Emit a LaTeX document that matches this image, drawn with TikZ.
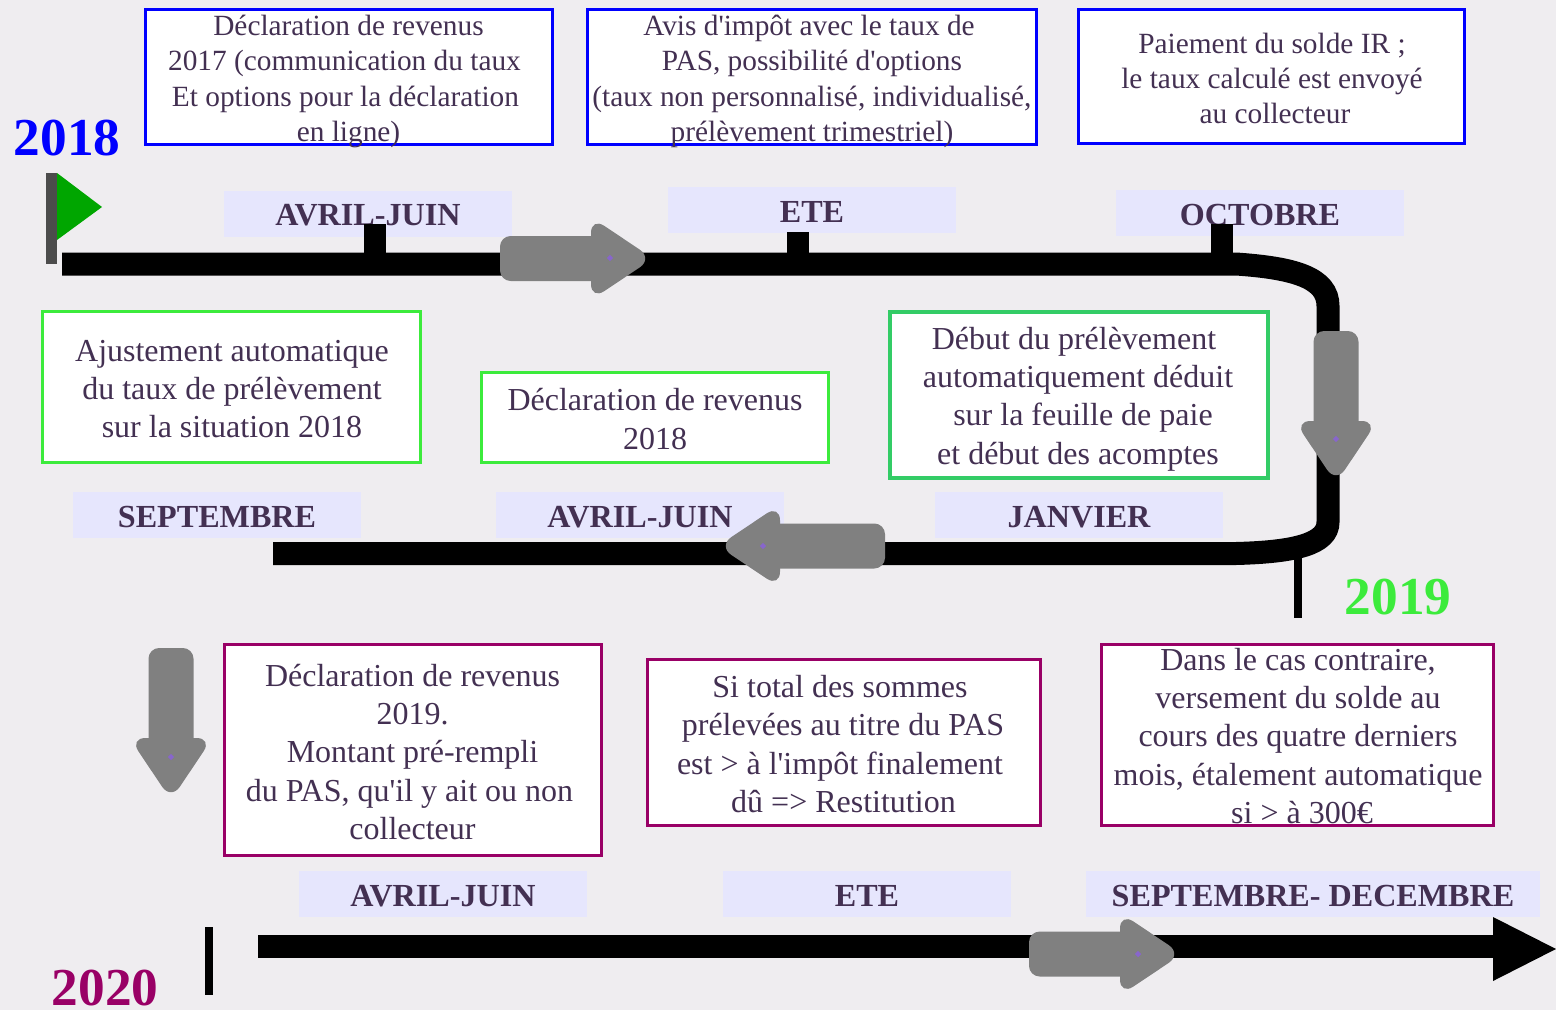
\documentclass[tikz,border=0pt]{standalone}
\usepackage{fontspec}
\usetikzlibrary{shapes.geometric}
\setmainfont{Liberation Serif}[Ligatures=TeXOff]
\definecolor{bgc}{HTML}{EFEDF0}
\definecolor{lab}{HTML}{E6E6FD}
\definecolor{ink}{HTML}{433052}
\definecolor{grA}{HTML}{3CEB3C}
\definecolor{grB}{HTML}{33CC66}
\definecolor{pur}{HTML}{990066}
\definecolor{fat}{HTML}{808080}
\definecolor{dotc}{HTML}{8866CC}
\newcommand\pxbox[6]{\pgfmathsetmacro\bxw{(#5-#3)*0.75}\pgfmathsetmacro\bxh{(#6-#4)*0.75}%
 \node[#2,minimum width=\bxw pt,minimum height=\bxh pt] (#1) at ({(#3+#5)/2},{(#4+#6)/2}) {};}
\newcommand\fatarrow[4]{\begin{scope}[shift={(#1,#2)},rotate=#3]
 \fill[fat,rounded corners=8pt] (0,-22.5) rectangle (#4+20,22.5);
 \fill[fat,rounded corners=12pt] (#4,-41.5) -- (#4+62,0) -- (#4,41.5) -- cycle;
 \end{scope}}
\newcommand\mlab[1]{\raisebox{-1.5pt}[\height][\depth]{#1}}
% shift one centred line right by #1 picture pixels
\newcommand\sh[1]{\hspace*{#1\dimexpr1.5pt\relax}}
\tikzset{
 x=0.75pt,y=-0.75pt,
 frame/.style={fill=white,line width=2.25pt,inner sep=0pt,outer sep=0pt},
 bluebox/.style={frame,draw=blue},
 greenbox/.style={frame,draw=grA},
 green2box/.style={frame,draw=grB,line width=3pt},
 purbox/.style={frame,draw=pur},
 txtS/.style={text=ink,align=center,font=\fontsize{22}{26.7}\selectfont,inner sep=0pt},
 txt/.style={text=ink,align=center,font=\fontsize{24}{28.8}\selectfont,inner sep=0pt},
 labelbox/.style={fill=lab,text=ink,inner sep=0pt,outer sep=0pt,font=\fontsize{24.1}{28}\selectfont\bfseries},
 year/.style={font=\fontsize{40}{42}\selectfont\bfseries,inner sep=0pt},
 axis/.style={line width=17.25pt,black},
 tick/.style={line width=16.5pt,black},
 dotmark/.style={fill=dotc,diamond,inner sep=0pt,minimum size=5pt},
}
\begin{document}
\begin{tikzpicture}
\useasboundingbox (0,0) rectangle (1556,1010);
\fill[bgc] (0,0) rectangle (1556,1010);
% boxes
\pxbox{bA}{bluebox}{145.5}{9}{552.5}{144.5}
\pxbox{bB}{bluebox}{587}{9}{1036}{144.5}
\pxbox{bC}{bluebox}{1078}{9}{1464}{143}
\pxbox{gA}{greenbox}{42}{311}{420}{462.5}
\pxbox{gB}{greenbox}{481}{372}{828.5}{462.5}
\pxbox{gC}{green2box}{889.5}{311.5}{1267.5}{477.5}
\pxbox{pA}{purbox}{224}{644}{601.5}{855.5}
\pxbox{pB}{purbox}{647}{659}{1040}{825}
\pxbox{pC}{purbox}{1101}{644}{1493.5}{825}
% box texts
\node[txtS] (tA) at (345.5,81.5) {\sh{3}Déclaration de revenus\\\sh{-1}2017 (communication du taux\\Et options pour la déclaration\\\sh{3}en ligne)};
\node[txtS] (tB) at (812,81.5) {\sh{-3}Avis d'impôt avec le taux de\\PAS, possibilité d'options\\(taux non personnalisé, individualisé,\\prélèvement trimestriel)};
\node[txtS,font=\fontsize{22}{26.25}\selectfont] (tC) at (1272,78) {Paiement du solde IR ;\\le taux calculé est envoyé\\\sh{3}au collecteur};
\node[txt] (tD) at (232,389) {Ajustement automatique\\du taux de prélèvement\\sur la situation 2018};
\node[txt] (tE) at (655,419) {Déclaration de revenus\\2018};
\node[txt] (tF) at (1078,399) {\sh{-4}Début du prélèvement\\automatiquement déduit\\\sh{5}sur la feuille de paie\\et début des acomptes};
\node[txt] (tG) at (412.5,752) {Déclaration de revenus\\2019.\\Montant pré-rempli\\\sh{-3}du PAS, qu'il y ait ou non\\collecteur};
\node[txt] (tH) at (840,744) {Si total des sommes\\\sh{3}prélevées au titre du PAS\\est > à l'impôt finalement\\\sh{3.5}dû => Restitution};
\node[txt] (tI) at (1298,736) {Dans le cas contraire,\\versement du solde au\\cours des quatre derniers\\mois, étalement automatique\\\sh{4}si > à 300€};
% month labels
\node[labelbox,minimum width=216pt,minimum height=34.5pt] (mA) at (368,213.5) {\mlab{AVRIL-JUIN}};
\node[labelbox,minimum width=216pt,minimum height=34.5pt] (mB) at (812,210) {\mlab{ETE}};
\node[labelbox,minimum width=216pt,minimum height=34.5pt] (mC) at (1260,213) {\mlab{OCTOBRE}};
\node[labelbox,minimum width=216pt,minimum height=34.5pt] (mD) at (217,515) {\mlab{SEPTEMBRE}};
\node[labelbox,minimum width=216pt,minimum height=34.5pt] (mE) at (640,515) {\mlab{AVRIL-JUIN}};
\node[labelbox,minimum width=216pt,minimum height=34.5pt] (mF) at (1079,515) {\mlab{JANVIER}};
\node[labelbox,minimum width=216pt,minimum height=34.5pt] (mG) at (443,894) {\mlab{AVRIL-JUIN}};
\node[labelbox,minimum width=216pt,minimum height=34.5pt] (mH) at (867,894) {\mlab{ETE}};
\node[labelbox,minimum width=340.5pt,minimum height=34.5pt] (mI) at (1313,894) {\mlab{SEPTEMBRE- DECEMBRE}};
% years
\node[year,text=blue] (y18) at (67,138) {2018};
\node[year,text=grA] (y19) at (1398,597) {2019};
\node[year,text=pur] (y20) at (105,988) {2020};
% flag
\fill[black!70] (46,173) rectangle (57,264);
\fill[green!65!black] (57,173) -- (102,207) -- (57,240) -- cycle;
% timeline
\coordinate (aS) at (62,264);
\coordinate (aE) at (273,553.5);
\draw[axis] (aS) -- (1236,264) .. controls (1295,268) and (1328,278) .. (1328,306) -- (1328,522) .. controls (1328,544) and (1295,552) .. (1236,553.5) -- (aE);
\coordinate (cS) at (258,946);
\coordinate (cE) at (1495,946);
\draw[axis] (cS) -- (cE);
\fill[black] (1493,917) -- (1556,949) -- (1493,981) -- cycle;
% ticks
\draw[tick] (375,224) -- (375,264);
\draw[line width=17pt] (798,232) -- (798,264);
\draw[line width=17pt] (1222,224) -- (1222,264);
\draw[line width=6pt] (1298,556) -- (1298,618);
\draw[line width=6pt] (209,927) -- (209,995);
% block arrows
\fatarrow{500}{258.5}{0}{91}
\node[dotmark] (dA) at (610,258) {};
\fatarrow{885}{546}{180}{105}
\node[dotmark] (dB) at (763,546) {};
\fatarrow{1336}{331}{-90}{90}
\node[dotmark] (dC) at (1336,439) {};
\fatarrow{171}{648}{-90}{90}
\node[dotmark] (dD) at (171,757) {};
\fatarrow{1029}{954}{0}{91}
\node[dotmark] (dE) at (1138,954) {};
\end{tikzpicture}
\end{document}
